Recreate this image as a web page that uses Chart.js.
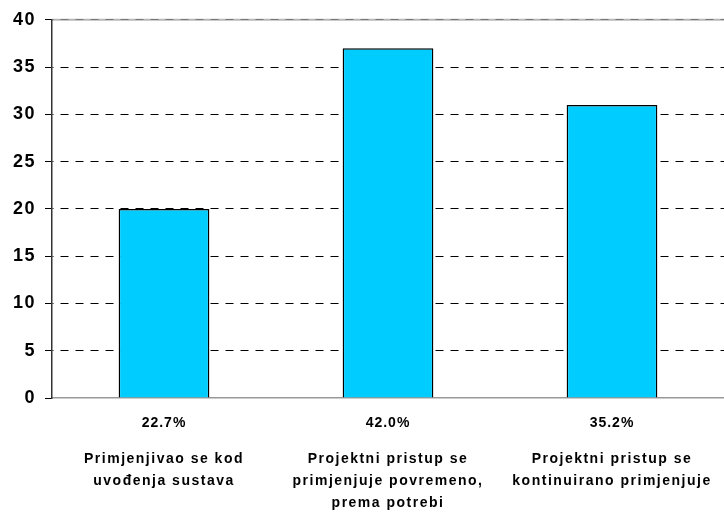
<!DOCTYPE html>
<html>
<head>
<meta charset="utf-8">
<script src="https://cdn.jsdelivr.net/npm/chart.js@4"></script>
<style>
  html, body { margin: 0; padding: 0; background: #fff; }
  #wrap { width: 724px; height: 516px; }
</style>
</head>
<body>
<div id="wrap"><canvas id="chart"></canvas></div>
<script>
// DATA
const categories = [
  ["Primjenjivao se kod", "uvođenja sustava"],
  ["Projektni pristup se", "primjenjuje povremeno,", "prema potrebi"],
  ["Projektni pristup se", "kontinuirano primjenjuje"]
];
const counts = [20, 37, 31];
const yTicks = [0, 5, 10, 15, 20, 25, 30, 35, 40];

const total = counts.reduce((a, b) => a + b, 0);
const percents = counts.map(v => (v / total * 100).toFixed(1) + "%");

const FONT = "'Liberation Sans', Arial, sans-serif";

// letter spacing for all text + solid light top line under the dashes
const spacingPlugin = {
  id: "spacing",
  beforeDraw(chart) {
    const { ctx, chartArea } = chart;
    ctx.save();
    ctx.strokeStyle = "#b8b8b8";
    ctx.lineWidth = 2;
    ctx.beginPath();
    ctx.moveTo(chartArea.left, chartArea.top);
    ctx.lineTo(chartArea.right, chartArea.top);
    ctx.stroke();
    ctx.restore();
    ctx.letterSpacing = "1.5px";
  }
};

// percentage row under the bars
const extrasPlugin = {
  id: "extras",
  afterDraw(chart) {
    const { ctx, chartArea, scales } = chart;
    ctx.save();
    ctx.fillStyle = "#000";
    ctx.font = "bold 14px " + FONT;
    ctx.letterSpacing = "1px";
    ctx.textAlign = "center";
    ctx.textBaseline = "middle";
    percents.forEach((p, i) => {
      ctx.fillText(p, scales.x.getPixelForValue(i), chartArea.bottom + 25);
    });
    ctx.restore();
  }
};

new Chart(document.getElementById("chart"), {
  type: "bar",
  data: {
    labels: categories,
    datasets: [{
      data: counts,
      backgroundColor: "#00CCFF",
      borderColor: "#000",
      borderWidth: 1.5,
      barPercentage: 0.81,
      categoryPercentage: 0.5
    }]
  },
  options: {
    responsive: true,
    maintainAspectRatio: false,
    animation: false,
    layout: { padding: { top: 19, right: -6, left: 0, bottom: 0 } },
    plugins: {
      legend: { display: false },
      tooltip: { enabled: false }
    },
    scales: {
      x: {
        grid: { display: false, drawTicks: false },
        border: { display: true, color: "#999", width: 1.5 },
        ticks: {
          color: "#000",
          padding: 50,
          maxRotation: 0,
          autoSkip: false,
          font: { family: FONT, size: 14, weight: "bold", lineHeight: "22px" }
        },
        afterFit: s => {
          s.height = 118;
          s.paddingLeft = 0;
          s.paddingRight = 0;
        }
      },
      y: {
        min: 0,
        max: 40,
        afterBuildTicks: s => { s.ticks = yTicks.map(v => ({ value: v })); },
        grid: {
          color: ctx => ctx.tick && ctx.tick.value === 0 ? "rgba(0,0,0,0)"
            : (ctx.tick && ctx.tick.value === 40 ? "#777" : "#000"),
          lineWidth: 1,
          tickLength: 7,
          tickColor: "#000",
          tickBorderDash: []
        },
        border: { display: true, color: "#333", width: 1.5, dash: [8, 7], dashOffset: -8 },
        ticks: {
          color: "#000",
          padding: 9,
          font: { family: FONT, size: 18, weight: "bold" }
        },
        afterFit: s => { s.width = 52; }
      }
    }
  },
  plugins: [spacingPlugin, extrasPlugin]
});
</script>
</body>
</html>
